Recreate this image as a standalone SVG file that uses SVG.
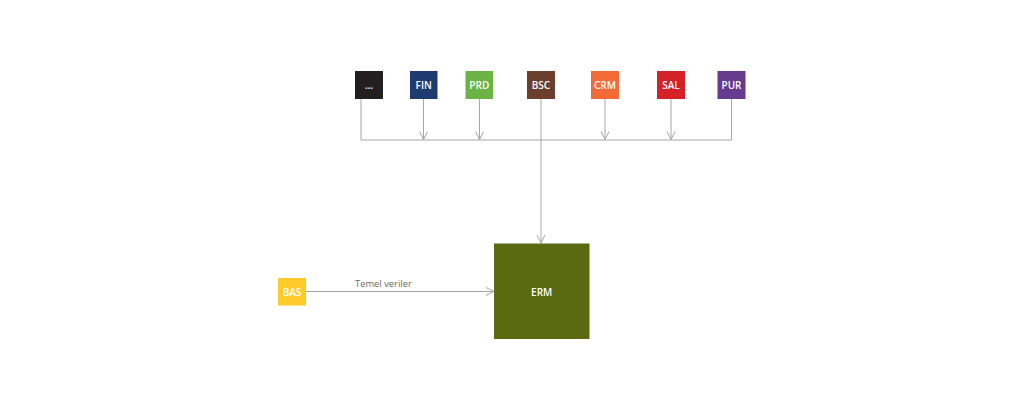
<svg xmlns="http://www.w3.org/2000/svg" width="1024" height="410" viewBox="0 0 1024 410">
<style>
.lbl{font-family:"Open Sans","Liberation Sans",sans-serif;font-size:10px;font-weight:600;fill:#ffffff;text-anchor:middle;dominant-baseline:central}
.conn{fill:none;stroke:#a6a6a6;stroke-width:1}
.elbl{font-family:"Open Sans","Liberation Sans",sans-serif;font-size:9.4px;fill:#6b6b6b}
</style>
<defs>
<marker id="arr" viewBox="0 0 10 10" refX="9" refY="5" markerWidth="10" markerHeight="10" markerUnits="userSpaceOnUse" orient="auto">
<path d="M1,1 L9,5 L1,9" fill="none" stroke="#a6a6a6" stroke-width="1"/>
</marker>
</defs>
<rect width="1024" height="410" fill="#ffffff"/>
<g id="connectors">
<path class="conn" d="M361,99 V140 H731.5 V99"/>
<path class="conn" d="M423.5,99 V139.5" marker-end="url(#arr)"/>
<path class="conn" d="M479.5,99 V139.5" marker-end="url(#arr)"/>
<path class="conn" d="M605,99 V139.5" marker-end="url(#arr)"/>
<path class="conn" d="M671,99 V139.5" marker-end="url(#arr)"/>
<path class="conn" d="M541,99 V243" marker-end="url(#arr)"/>
<path class="conn" d="M306,291.5 H494" marker-end="url(#arr)"/>
<text class="elbl" x="355" y="287">Temel veriler</text>
</g>
<g id="node-etc"><rect x="355" y="71" width="28" height="28" fill="#231f20"/><text class="lbl" x="369" y="85">...</text></g>
<g id="node-fin"><rect x="410" y="71" width="27.5" height="28" fill="#1f3a6e"/><text class="lbl" x="423.7" y="85">FIN</text></g>
<g id="node-prd"><rect x="465.5" y="71" width="27.5" height="28" fill="#6ab344"/><text class="lbl" x="479.3" y="85">PRD</text></g>
<g id="node-bsc"><rect x="527" y="71" width="28" height="28" fill="#6b3f2b"/><text class="lbl" x="541" y="85">BSC</text></g>
<g id="node-crm"><rect x="591" y="71" width="28" height="28" fill="#f26a35"/><text class="lbl" x="605" y="85">CRM</text></g>
<g id="node-sal"><rect x="657" y="71" width="28" height="28" fill="#d42128"/><text class="lbl" x="671" y="85">SAL</text></g>
<g id="node-pur"><rect x="717.5" y="71" width="28" height="28" fill="#663a8c"/><text class="lbl" x="731.5" y="85">PUR</text></g>
<g id="node-bas"><rect x="278" y="278" width="28" height="27.5" fill="#fecb2b"/><text class="lbl" x="292" y="292">BAS</text></g>
<g id="node-erm"><rect x="494" y="243.5" width="95.5" height="95.5" fill="#5a6a10"/><text class="lbl" x="541.7" y="291.5">ERM</text></g>
</svg>
